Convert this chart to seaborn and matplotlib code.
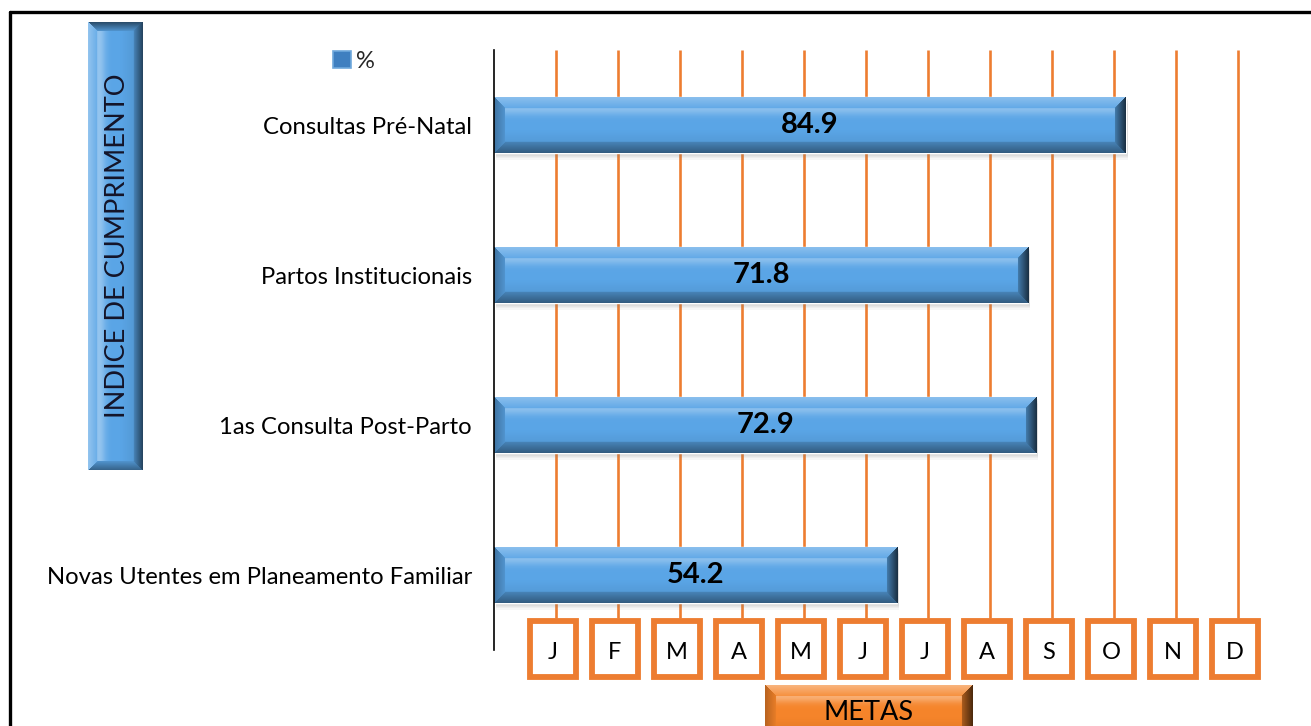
import numpy as np
import pandas as pd
import matplotlib
matplotlib.use("Agg")
import matplotlib.pyplot as plt
import seaborn as sns
from matplotlib.colors import to_rgb
from matplotlib.patches import Rectangle, Patch
from matplotlib.lines import Line2D

# ---- data ----
categories = ["Consultas Pré-Natal", "Partos Institucionais",
              "1as Consulta Post-Parto", "Novas Utentes em Planeamento Familiar"]
values = [84.9, 71.8, 72.9, 54.2]
months = ["J", "F", "M", "A", "M", "J", "J", "A", "S", "O", "N", "D"]
y_title = "INDICE DE CUMPRIMENTO"
x_title = "METAS"
legend_label = "%"

W, H = 1311, 726
BLUE = "#5AA5E6"
ORANGE = "#ED7D31"

sns.set_style("white")
plt.rcParams["font.family"] = ["Lato", "DejaVu Sans"]


def mix(base, f):
    base = np.asarray(base)
    f = f[..., None]
    light = base + (1 - base) * (f - 1)
    dark = base * f
    return np.clip(np.where(f > 1, light, dark), 0, 1)


def bevel_img(wp, hp, base, b, horizontal=True,
              top=(1.1, 1.4), bottom=(0.85, 0.6), left=(0.9, 0.6), right=(0.75, 0.3),
              hl=0.3):
    """Each edge given as (inner factor, outer factor)."""
    wp, hp = int(max(wp, 4)), int(max(hp, 4))
    yy, xx = np.mgrid[0:hp, 0:wp] + 0.5
    base = np.array(to_rgb(base))
    t = (yy / hp) if horizontal else (xx / wp)
    f = 1 + hl * np.exp(-((t - 0.2) / 0.12) ** 2) - 0.12 * np.clip((t - 0.6) / 0.4, 0, 1)
    dt, db, dl, dr = yy, hp - yy, xx, wp - xx
    m = np.minimum.reduce([dt, db, dl, dr])
    inb = m < b
    for d, (fi, fo) in ((dt, top), (db, bottom), (dl, left), (dr, right)):
        val = fo + (fi - fo) * (d / b)
        f = np.where(inb & (d == m), val, f)
    return mix(base, f)


def fx(x):
    return x / W


def fy(y):
    return 1 - y / H


fig = plt.figure(figsize=(W / 100, H / 100), dpi=100)
fig.patch.set_facecolor("white")

# main axes: x 0..100 spans px 494..1238, y spans px 50..650
ax = fig.add_axes([fx(494), fy(650), 744 / W, 600 / H])
df = pd.DataFrame({"cat": categories, "val": values})
sns.barplot(data=df, x="val", y="cat", orient="h", width=0.37,
            color=BLUE, ax=ax, saturation=1)

# bevelled gradient on each bar + soft shadow
pxu = 744 / 100.0
for p in list(ax.patches):
    x0, y0, w, h = p.get_x(), p.get_y(), p.get_width(), p.get_height()
    for k in range(1, 6):
        ax.add_patch(Rectangle((x0 + 2 / pxu, y0 + k * 1.4 / 150), w, h,
                               facecolor="#808080", edgecolor="none", alpha=0.07,
                               zorder=p.get_zorder() - 0.05))
    img = bevel_img(w * pxu, 55, BLUE, 11, horizontal=True,
                    top=(1.05, 1.3), bottom=(0.8, 0.55), left=(0.9, 0.7), right=(0.75, 0.28))
    im = ax.imshow(img, extent=(x0, x0 + w, y0 + h, y0), origin="upper",
                   aspect="auto", zorder=p.get_zorder() + 0.1, interpolation="bilinear")
    im.set_clip_path(p)

for i, v in enumerate(values):
    ax.text(v / 2, i, f"{v}", ha="center", va="center", fontsize=21,
            fontweight="bold", color="black", zorder=10)

ax.set_xlim(0, 100)
ax.set_ylim(3.5, -0.5)


def ypx(y):
    return (y - 50) / 150.0 - 0.5


# orange month lines and boxes
box_top, box_bot = 618, 680
xs = [100 / 12 * (k + 1) for k in range(12)]
ax.vlines(xs, ypx(50), ypx(box_top), color=ORANGE, lw=1.9, zorder=0.5, clip_on=False)
bw = 46 / pxu
shift = -3 / pxu
for x, m in zip(xs, months):
    ax.add_patch(Rectangle((x + shift - bw / 2, ypx(box_top + 3)), bw,
                           ypx(box_bot - 3) - ypx(box_top + 3),
                           facecolor="white", edgecolor=ORANGE, lw=4.2, clip_on=False, zorder=3))
    ax.text(x + shift, ypx(653), m, ha="center", va="center", fontsize=17, color="black",
            zorder=4, clip_on=False)

ax.set_xlabel("")
ax.set_ylabel("")
ax.set_xticks([])
ax.tick_params(axis="y", length=0, pad=16, labelsize=17.2, labelcolor="black")
for s in ["top", "right", "bottom"]:
    ax.spines[s].set_visible(False)
ax.spines["left"].set_color("black")
ax.spines["left"].set_linewidth(1.2)
ax.spines["left"].set_zorder(6)

# legend
fig.legend(handles=[Patch(facecolor="#3F7FC0", edgecolor="#6FA8DC", lw=1.2)],
           labels=[legend_label], loc="center left",
           bbox_to_anchor=(fx(321), fy(61)), frameon=False, fontsize=17,
           handlelength=0.75, handleheight=0.75, handletextpad=0.25, borderpad=0)

# left vertical title box
tax = fig.add_axes([fx(88), fy(470), 54 / W, 448 / H])
tax.imshow(bevel_img(54, 448, BLUE, 9, horizontal=False,
                     top=(0.9, 0.45), bottom=(0.9, 0.6), left=(1.1, 1.35), right=(0.8, 0.4),
                     hl=0.35),
           aspect="auto", extent=(0, 1, 0, 1), interpolation="bilinear")
tax.text(0.55, 0.5, y_title, rotation=90, ha="center", va="center",
         fontsize=19.5, color="#141428", transform=tax.transAxes)
tax.set_axis_off()

# METAS box
max_ = fig.add_axes([fx(765), fy(740), 207 / W, 55 / H])
max_.imshow(bevel_img(207, 55, "#F5842A", 11, horizontal=True,
                      top=(1.1, 1.4), bottom=(0.8, 0.55), left=(0.95, 0.75), right=(0.7, 0.3),
                      hl=0.35),
            aspect="auto", extent=(0, 1, 0, 1), interpolation="bilinear")
max_.text(0.5, 0.5, x_title, ha="center", va="center", fontsize=19.5,
          color="black", transform=max_.transAxes)
max_.set_axis_off()
max_.set_xlim(0, 1)
max_.set_ylim(0, 1)

# outer border
fig.add_artist(Line2D([fx(10), 1.0], [fy(12), fy(12)], color="black", lw=2.4,
                      transform=fig.transFigure))
fig.add_artist(Line2D([fx(10), fx(10)], [fy(12), 0], color="black", lw=2.4,
                      transform=fig.transFigure))

fig.savefig("out.png", dpi=100)
